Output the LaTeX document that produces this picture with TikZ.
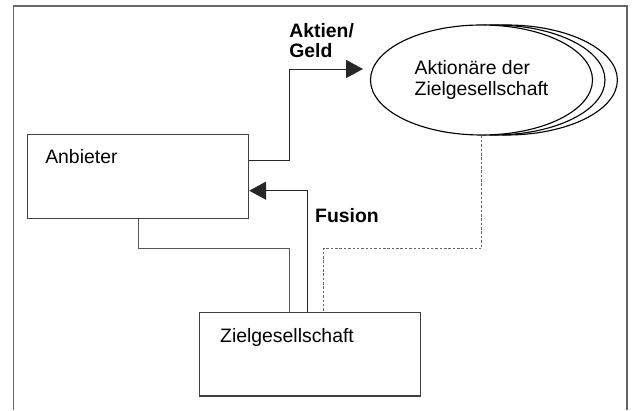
\documentclass[tikz,border=0pt]{standalone}
\usepackage{fontspec}
\setmainfont{Liberation Sans}
\usepackage{tikz}
\usetikzlibrary{shapes.geometric, arrows.meta, positioning, calc}
\tikzstyle{kasten} = [rectangle, minimum width=5.53cm, minimum height=2.08cm, draw=black!75, line width=0.75pt, inner sep=0]
\tikzstyle{wolke} = [ellipse, minimum width=5.55cm, minimum height=2.75cm, draw=black, fill=white, line width=0.8pt, inner sep=0]
\tikzstyle{schrift} = [inner sep=0, align=left, font=\fontsize{13.8}{15}\selectfont]
\tikzstyle{fett} = [schrift, font=\fontsize{13.8}{14.5}\selectfont\bfseries]
\tikzstyle{linie} = [line width=0.7pt, draw=black!65]
\tikzstyle{arrow} = [line width=0.7pt, draw=black!85, -{Triangle[length=0.42cm,width=0.45cm]}]
\tikzstyle{gestrichelt} = [line width=0.6pt, draw=black!60, dash pattern=on 1.8pt off 1.3pt]

\begin{document}
\begin{tikzpicture}
\useasboundingbox (0,0) rectangle (15.825,10.25);
% Rahmen (unten offen)
\draw[black!60, line width=1pt] (0.34,0) -- (0.34,10.1) -- (15.67,10.1) -- (15.67,0);

\node (anb) [kasten] at (3.4525,5.8375) {};
\node (anbtext) [schrift, below right=0.36cm and 0.45cm of anb.north west] {Anbieter};
\node (ziel) [kasten] at (7.75,1.39) {};
\node (zieltext) [schrift, below right=0.39cm and 0.525cm of ziel.north west] {Zielgesellschaft};

% Aktionaere: drei Ellipsen hintereinander
\node (akt3) [wolke] at (12.66,8.25) {};
\node (akt2) [wolke] at (12.35,8.25) {};
\node (akt) [wolke, schrift] at (12.0375,8.25) {Aktionäre der\\Zielgesellschaft};

\coordinate (aktknick) at (7.225,8.525);
\coordinate (fusknick) at (7.6925,5.4825);
\coordinate (knick) at (7.225,4.03);
\coordinate (dknick) at (8.075,4.03);

\draw[arrow] ([yshift=0.39cm]anb.east) -| (aktknick) -- ($(aktknick -| akt.west)+(-0.175,0)$);
\node (aktien) [fett, above right=0.27cm and 0cm of aktknick] {Aktien/\\Geld};

\draw[arrow] (fusknick |- ziel.north) -- (fusknick) -- (fusknick -| anb.east);
\node (fusion) [fett, below right=0.44cm and 0.18cm of fusknick] {Fusion};

\draw[linie] (anb.south) |- (knick) -- (knick |- ziel.north);
\draw[gestrichelt] (akt.south) |- (dknick) -- (dknick |- ziel.north);
\end{tikzpicture}
\end{document}
